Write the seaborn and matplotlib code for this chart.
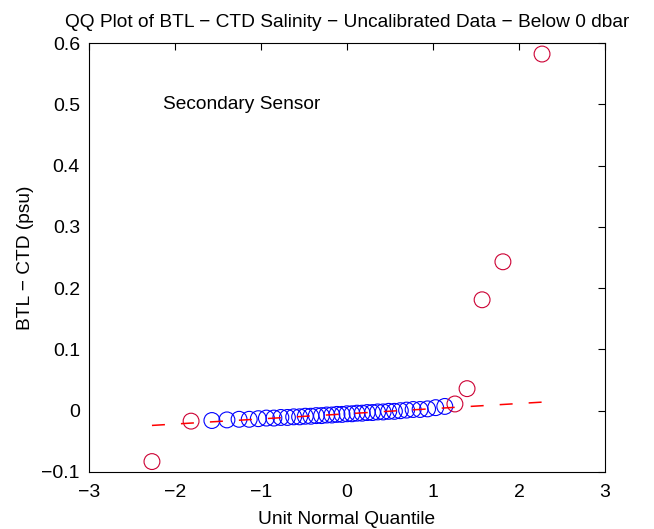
import numpy as np
import pandas as pd
import matplotlib
matplotlib.use("Agg")
import matplotlib.pyplot as plt
import seaborn as sns

# normal quantiles for n = 43 points, plotting positions (i - 0.5) / n
quantiles = [-2.268, -1.813, -1.571, -1.396, -1.255, -1.137, -1.031, -0.937,
             -0.850, -0.769, -0.693, -0.620, -0.551, -0.485, -0.420, -0.357,
             -0.296, -0.235, -0.176, -0.117, -0.058, 0.000, 0.058, 0.117,
             0.176, 0.235, 0.296, 0.357, 0.420, 0.485, 0.551, 0.620,
             0.693, 0.769, 0.850, 0.937, 1.031, 1.137, 1.255, 1.396,
             1.571, 1.813, 2.268]

# sorted BTL - CTD salinity differences (psu)
btl_minus_ctd = [-0.083, -0.017, -0.016, -0.015, -0.014, -0.014, -0.013, -0.012,
                 -0.012, -0.011, -0.011, -0.010, -0.010, -0.009, -0.009, -0.008,
                 -0.008, -0.007, -0.007, -0.006, -0.006, -0.005, -0.005, -0.004,
                 -0.004, -0.003, -0.003, -0.002, -0.002, -0.001, -0.001, 0.000,
                 0.001, 0.002, 0.002, 0.003, 0.005, 0.007, 0.011, 0.036,
                 0.181, 0.243, 0.582]

# flagged outliers (drawn in red)
is_outlier = [True, True] + [False] * 36 + [True] * 5

df = pd.DataFrame({"q": quantiles, "d": btl_minus_ctd, "out": is_outlier})

sns.set_theme(style="white")
plt.rcParams["font.family"] = ["Liberation Sans", "DejaVu Sans"]
plt.rcParams["axes.unicode_minus"] = True
plt.rcParams["text.color"] = "black"
plt.rcParams["axes.labelcolor"] = "black"

fig = plt.figure(figsize=(6.54, 5.29), dpi=100)
ax = fig.add_axes([89 / 654, 1 - 472 / 529, (605 - 89) / 654, (472 - 43) / 529])

# reference line through the quartiles, extended over the data range
q1x, q3x = np.percentile(quantiles, [25, 75])
q1y, q3y = np.percentile(btl_minus_ctd, [25, 75])
slope = (q3y - q1y) / (q3x - q1x)
x_line = np.array([min(quantiles), max(quantiles)])
y_line = q1y + slope * (x_line - q1x)
sns.lineplot(x=x_line, y=y_line, ax=ax, color="#ff0000", lw=1.1,
             dashes=False).lines[0].set_dashes((8.5, 10.5))

sns.scatterplot(data=df[~df["out"]], x="q", y="d", ax=ax, marker="o", s=130,
                facecolors="none", edgecolor="#0000ff", linewidth=0.8)
sns.scatterplot(data=df[df["out"]], x="q", y="d", ax=ax, marker="o", s=130,
                facecolors="none", edgecolor="#cc0033", linewidth=0.8)

ax.set_xlim(-3, 3)
ax.set_ylim(-0.1, 0.6)
ax.set_xticks(np.arange(-3, 4, 1))
ax.set_yticks(np.round(np.arange(-0.1, 0.61, 0.1), 1))
ax.set_yticklabels(["\u22120.1", "0", "0.1", "0.2", "0.3", "0.4", "0.5", "0.6"])
ax.set_xticklabels(["\u22123", "\u22122", "\u22121", "0", "1", "2", "3"])
ax.tick_params(axis="both", direction="in", length=5, width=0.8, top=True, right=True,
               labelsize=14, colors="black")
ax.tick_params(axis="x", pad=8.5)
ax.tick_params(axis="y", pad=6.5)
for sp in ax.spines.values():
    sp.set_color("black")
    sp.set_linewidth(0.8)

ax.text(-2.14, 0.5, "Secondary Sensor", fontsize=13.8, va="center", ha="left")
ax.set_title("QQ Plot of BTL \u2212 CTD Salinity \u2212 Uncalibrated Data \u2212 Below 0 dbar",
             fontsize=13.8, pad=11.5)
ax.set_xlabel("Unit Normal Quantile", fontsize=13.8, labelpad=7)
ax.set_ylabel("BTL \u2212 CTD (psu)", fontsize=13.8, labelpad=5.5)

fig.savefig("out.png", dpi=100, facecolor="white")
